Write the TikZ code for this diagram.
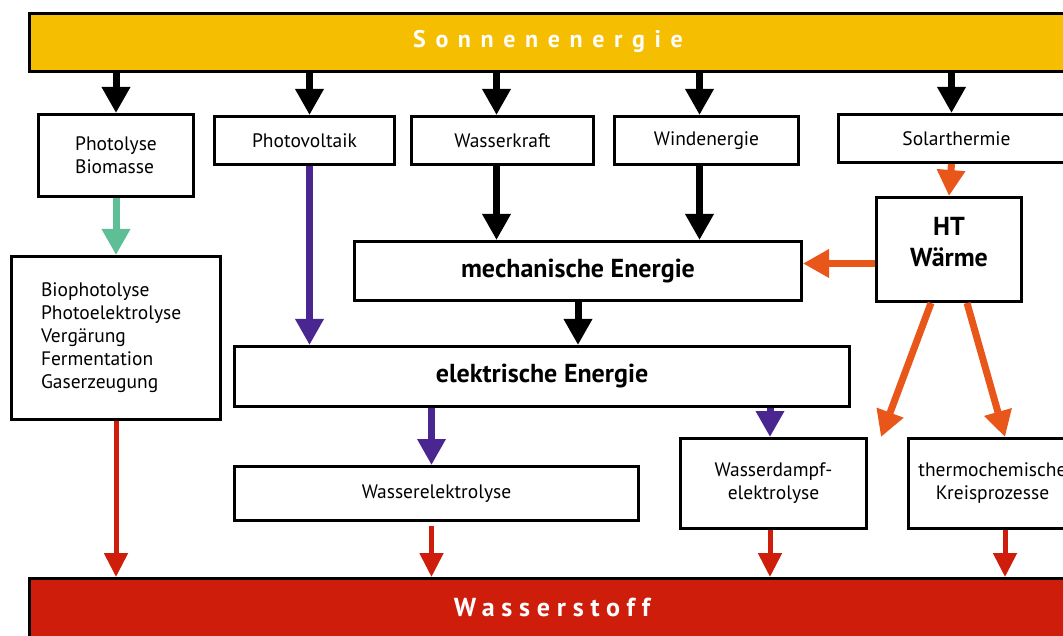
\documentclass[tikz,border=0pt]{standalone}
\usepackage{fontspec}
\setmainfont{PT Sans}
\newfontfamily\sunfont[LetterSpace=40]{PT Sans}
\newfontfamily\hydfont[LetterSpace=26]{PT Sans}
\usetikzlibrary{arrows.meta}
\definecolor{sunyellow}{HTML}{F6BE00}
\definecolor{hydred}{HTML}{CF1D0C}
\definecolor{heatorange}{HTML}{E8561A}
\definecolor{elpurple}{HTML}{4A2690}
\definecolor{biogreen}{HTML}{5EBE95}
\tikzset{
  box/.style={draw=black,line width=3pt,fill=white,inner sep=6pt,font=\fontsize{19.5}{23}\selectfont},
  bigbox/.style={box,font=\fontsize{26}{31}\selectfont\bfseries},
  bar/.style={draw=black,line width=3pt,inner sep=0pt,text=white},
  flow/.style={line width=7pt,-{Triangle[width=27pt,length=26pt]}},
  thinflow/.style={line width=5pt,-{Triangle[width=23pt,length=24pt]}}
}
\begin{document}
\begin{tikzpicture}[x=1pt,y=-1pt]
\useasboundingbox (0,0) rectangle (1063,636);
\clip (0,0) rectangle (1063,636);
\fill[white] (0,0) rectangle (1063,636);
% bars
\node[bar,fill=sunyellow,anchor=north west,minimum width=1060pt,minimum height=58pt] (sonne) at (28,12) {};
\node[font=\fontsize{24}{28}\selectfont\sunfont\bfseries,text=white] (sonnetxt) at (548,41) {Sonnenenergie};
\node[bar,fill=hydred,anchor=north west,minimum width=1060pt,minimum height=62pt] (wst) at (28,577) {};
\node[font=\fontsize{26}{30}\selectfont\hydfont\bfseries,text=white] (wsttxt) at (552,607) {Wasserstoff};
% first row
\node[box,anchor=north west,minimum width=155pt,minimum height=82pt,align=left] (pb) at (37,113) {Photolyse\\Biomasse};
\node[box,anchor=north west,minimum width=180pt,minimum height=48pt] (pv) at (213,115) {Photovoltaik};
\node[box,anchor=north west,minimum width=182pt,minimum height=48pt] (wk) at (410,115) {Wasserkraft};
\node[box,anchor=north west,minimum width=184pt,minimum height=48pt] (wind) at (613,115) {Windenergie};
\node[box,anchor=north west,minimum width=236pt,minimum height=48pt] (solar) at (837,113) {Solarthermie};
% middle
\node[box,anchor=north west,minimum width=209pt,minimum height=163pt,text width=150pt,align=left] (bio) at (10,255)
  {Biophotolyse\\Photoelektrolyse\\Vergärung\\Fermentation\\Gaserzeugung};
\node[bigbox,anchor=north west,minimum width=145pt,minimum height=104pt,text depth=16pt,align=center] (ht) at (875,196) {HT\\Wärme};
\node[bigbox,anchor=north west,minimum width=447pt,minimum height=59pt] (mech) at (353,240) {mechanische Energie};
\node[bigbox,anchor=north west,minimum width=615pt,minimum height=60pt] (elek) at (233,345) {elektrische Energie};
% bottom row
\node[box,anchor=north west,minimum width=404pt,minimum height=54pt] (we) at (233,465) {Wasserelektrolyse};
\node[box,anchor=north west,minimum width=186pt,minimum height=90pt,align=center] (wde) at (679,437) {Wasserdampf-\\elektrolyse};
\node[box,anchor=north west,minimum width=168pt,minimum height=90pt,align=center] (tck) at (907,437) {thermochemische\\Kreisprozesse};
% arrows from the sun
\draw[flow] (sonne.south -| pb.north) -- (pb.north);
\draw[flow] ([xshift=5pt]pv.north |- sonne.south) -- ([xshift=5pt]pv.north);
\draw[flow] ([xshift=-6pt]wk.north |- sonne.south) -- ([xshift=-6pt]wk.north);
\draw[flow] ([xshift=-7pt]wind.north |- sonne.south) -- ([xshift=-7pt]wind.north);
\draw[flow] ([xshift=-5pt]solar.north |- sonne.south) -- ([xshift=-5pt]solar.north);
% paths
\draw[flow,biogreen] (pb.south) -- (bio.north -| pb.south);
\draw[flow,elpurple] ([xshift=5pt]pv.south) -- ([xshift=5pt]pv.south |- elek.north);
\draw[flow] ([xshift=-6pt]wk.south) -- ([xshift=-6pt]wk.south |- mech.north);
\draw[flow] ([xshift=-7pt]wind.south) -- ([xshift=-7pt]wind.south |- mech.north);
\draw[flow] (mech.south -| 578,0) -- (elek.north -| 578,0);
\draw[flow,heatorange] ([xshift=-5pt]solar.south) -- (ht.north);
\draw[flow,heatorange] ([yshift=-14pt]ht.west) -- ([yshift=-14pt]ht.west -| mech.east);
\draw[flow,heatorange] ([xshift=-18pt]ht.south) -- ([xshift=13pt]wde.north east);
\draw[flow,heatorange] ([xshift=18pt]ht.south) -- (tck.north -| 1005,0);
\draw[flow,elpurple] (elek.south -| we.north) ++(-5pt,0) -- ([xshift=-5pt]we.north);
\draw[flow,elpurple] (elek.south -| 770,0) -- (wde.north -| 770,0);
% to hydrogen
\draw[thinflow,hydred] (bio.south -| pb.south) -- (wst.north -| pb.south);
\draw[thinflow,hydred] ([xshift=-5pt,yshift=-4pt]we.south) -- ([xshift=-5pt]we.south |- wst.north);
\draw[thinflow,hydred] (wde.south -| 770,0) -- (wst.north -| 770,0);
\draw[thinflow,hydred] (tck.south -| 1005,0) -- (wst.north -| 1005,0);
\end{tikzpicture}
\end{document}
